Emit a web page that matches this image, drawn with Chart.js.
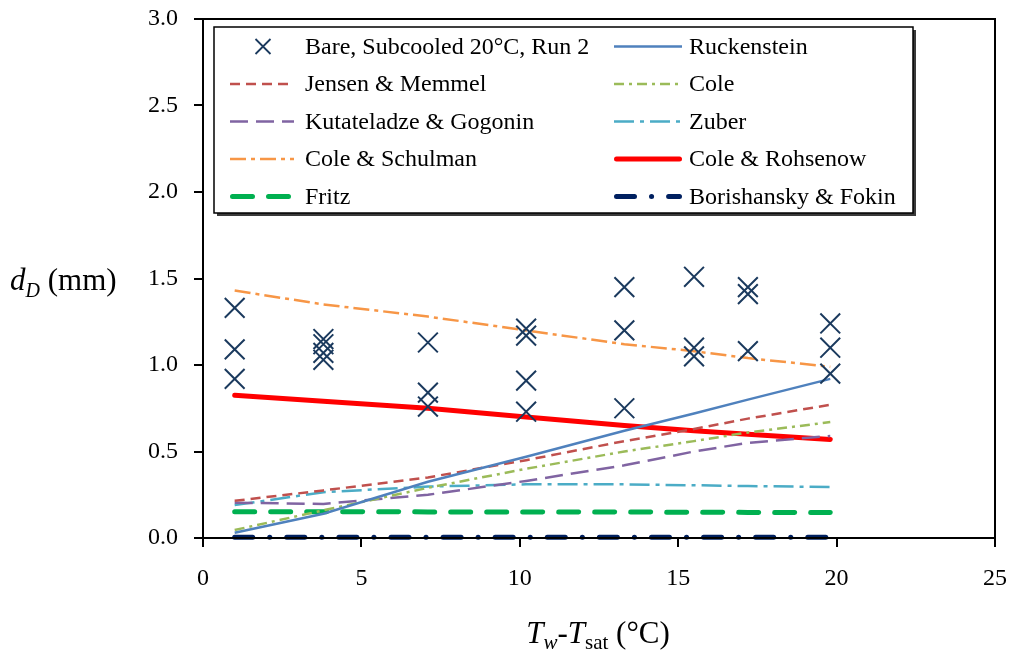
<!DOCTYPE html>
<html><head><meta charset="utf-8">
<script src="https://cdn.jsdelivr.net/npm/chart.js@4"></script>
<style>html,body{margin:0;padding:0;background:#fff}canvas{display:block}</style>
</head><body>
<canvas id="c" width="1013" height="653"></canvas>
<script>
// ---- data ----
const xTicks = [0, 5, 10, 15, 20, 25];
const yTicks = [0.0, 0.5, 1.0, 1.5, 2.0, 2.5, 3.0];

const expX = [1.0,1.0,1.0, 3.8,3.8,3.8,3.8, 7.1,7.1,7.1, 10.2,10.2,10.2,10.2, 13.3,13.3,13.3, 15.5,15.5,15.5, 17.2,17.2,17.2, 19.8,19.8,19.8];
const expY = [1.33,1.09,0.92, 1.15,1.12,1.07,1.03, 1.13,0.84,0.76, 1.21,1.17,0.91,0.73, 1.45,1.20,0.75, 1.51,1.10,1.05, 1.45,1.41,1.08, 1.24,1.10,0.95];

const xLine = [1.0, 3.8, 7.1, 10.2, 13.3, 15.5, 17.2, 19.8];
const ruckenstein  = [0.03, 0.14, 0.325, 0.47, 0.62, 0.72, 0.80, 0.92];
const jensenMemmel = [0.215, 0.275, 0.35, 0.45, 0.56, 0.63, 0.69, 0.77];
const cole         = [0.046, 0.16, 0.29, 0.40, 0.50, 0.56, 0.61, 0.67];
const kutateladze  = [0.204, 0.197, 0.25, 0.33, 0.42, 0.50, 0.55, 0.59];
const zuber        = [0.19, 0.265, 0.297, 0.31, 0.31, 0.305, 0.30, 0.295];
const coleSchulman = [1.43, 1.35, 1.28, 1.20, 1.12, 1.08, 1.04, 0.99];
const coleRohsenow = [0.825, 0.79, 0.75, 0.70, 0.65, 0.62, 0.60, 0.57];
const fritz        = [0.152, 0.152, 0.151, 0.151, 0.150, 0.149, 0.148, 0.147];
const borishansky  = [0.005, 0.005, 0.005, 0.005, 0.005, 0.005, 0.005, 0.005];

const labels = ['Bare, Subcooled 20°C, Run 2','Ruckenstein','Jensen & Memmel','Cole','Kutateladze & Gogonin','Zuber','Cole & Schulman','Cole & Rohsenow','Fritz','Borishansky & Fokin'];
// ---- end data ----

const FONT = 'Liberation Serif';
const pts = (xs, ys) => xs.map((x, i) => ({x: x, y: ys[i]}));
function lineDs(label, ys, color, width, dash, cap) {
  return {label: label, data: pts(xLine, ys), showLine: true, borderColor: color, backgroundColor: color,
    borderWidth: width, borderDash: dash, borderCapStyle: cap || 'butt', pointRadius: 0, pointHoverRadius: 0, fill: false, clip: false};
}
const datasets = [
  {label: labels[0], data: pts(expX, expY), showLine: false, pointStyle: 'crossRot', pointRadius: 14,
   borderColor: '#1b3a5e', backgroundColor: '#1b3a5e', pointBorderWidth: 2, clip: false},
  lineDs(labels[1], ruckenstein, '#4F81BD', 2.5, []),
  lineDs(labels[2], jensenMemmel, '#C0504D', 2.5, [10, 6]),
  lineDs(labels[3], cole, '#9BBB59', 2.5, [10, 5, 3, 5]),
  lineDs(labels[4], kutateladze, '#8064A2', 2.5, [18, 8]),
  lineDs(labels[5], zuber, '#4BACC6', 2.5, [20, 6, 4, 6]),
  lineDs(labels[6], coleSchulman, '#F79646', 2.5, [16, 5, 4, 5]),
  lineDs(labels[7], coleRohsenow, '#FF0000', 5, [], 'round'),
  lineDs(labels[8], fritz, '#00B050', 5, [20, 16], 'round'),
  lineDs(labels[9], borishansky, '#002060', 5, [18, 17, 0.1, 17], 'round')
];

function drawRich(ctx, parts, x, y, align) {
  let w = 0;
  parts.forEach(p => { ctx.font = p.f; w += ctx.measureText(p.t).width; });
  let cx = align === 'center' ? x - w / 2 : x;
  ctx.textBaseline = 'alphabetic'; ctx.textAlign = 'left'; ctx.fillStyle = '#000';
  parts.forEach(p => { ctx.font = p.f; ctx.fillText(p.t, cx, y + (p.dy || 0)); cx += ctx.measureText(p.t).width; });
}

const customPlugin = {
  id: 'custom',
  afterDatasetsDraw(chart) {
    const ctx = chart.ctx, a = chart.chartArea;
    ctx.save();
    // plot frame
    ctx.strokeStyle = '#000'; ctx.lineWidth = 2; ctx.setLineDash([]);
    ctx.strokeRect(a.left, a.top, a.right - a.left, a.bottom - a.top);
    // legend box with shadow
    const L = 214, T = 27, R = 913, B = 213;
    ctx.fillStyle = '#3a3a3a'; ctx.fillRect(L + 3, T + 3, R - L, B - T);
    ctx.fillStyle = '#fff'; ctx.fillRect(L, T, R - L, B - T);
    ctx.strokeStyle = '#000'; ctx.lineWidth = 1.5; ctx.strokeRect(L, T, R - L, B - T);
    const rowsY = [46.5, 84, 121.5, 159, 196.5];
    const cols = [{x1: 230, x2: 294, tx: 305}, {x1: 614, x2: 682, tx: 689}];
    datasets.forEach((ds, i) => {
      const col = cols[i % 2], y = rowsY[Math.floor(i / 2)];
      ctx.save();
      if (i === 0) {
        const cx = 263, s = 7.5;
        ctx.strokeStyle = ds.borderColor; ctx.lineWidth = 1.8; ctx.beginPath();
        ctx.moveTo(cx - s, y - s); ctx.lineTo(cx + s, y + s);
        ctx.moveTo(cx - s, y + s); ctx.lineTo(cx + s, y - s); ctx.stroke();
      } else {
        ctx.strokeStyle = ds.borderColor; ctx.lineWidth = ds.borderWidth;
        ctx.setLineDash(ds.borderDash); ctx.lineCap = ds.borderCapStyle;
        const inset = ds.borderCapStyle === 'round' ? ds.borderWidth / 2 : 0;
        ctx.beginPath(); ctx.moveTo(col.x1 + inset, y); ctx.lineTo(col.x2 - inset, y); ctx.stroke();
      }
      ctx.restore();
      ctx.fillStyle = '#000'; ctx.font = '24px "' + FONT + '"'; ctx.textBaseline = 'middle'; ctx.textAlign = 'left';
      ctx.fillText(ds.label, col.tx, y + 1);
    });
    // axis titles
    drawRich(ctx, [
      {t: 'd', f: 'italic 31px "' + FONT + '"'},
      {t: 'D', f: 'italic 20px "' + FONT + '"', dy: 7},
      {t: ' (mm)', f: '31px "' + FONT + '"'}
    ], 10, 290, 'left');
    drawRich(ctx, [
      {t: 'T', f: 'italic 31px "' + FONT + '"'},
      {t: 'w', f: 'italic 21px "' + FONT + '"', dy: 6},
      {t: '-', f: '31px "' + FONT + '"'},
      {t: 'T', f: 'italic 31px "' + FONT + '"'},
      {t: 'sat', f: '21px "' + FONT + '"', dy: 6},
      {t: ' (°C)', f: '31px "' + FONT + '"'}
    ], 598, 643, 'center');
    ctx.restore();
  }
};

function zeroPad(s) { s.paddingLeft = 0; s.paddingRight = 0; s.paddingTop = 0; s.paddingBottom = 0; }

new Chart(document.getElementById('c'), {
  type: 'scatter',
  data: {datasets: datasets},
  options: {
    responsive: false, animation: false,
    layout: {padding: {left: 0, top: 19, right: 18, bottom: 0}},
    plugins: {legend: {display: false}, tooltip: {enabled: false}},
    scales: {
      x: {
        type: 'linear', min: 0, max: 25,
        afterBuildTicks: s => { s.ticks = xTicks.map(v => ({value: v})); },
        afterFit: s => { s.height = 115; zeroPad(s); },
        grid: {display: true, drawOnChartArea: false, drawTicks: true, tickLength: 9, color: '#000', lineWidth: 2},
        border: {display: true, color: '#000', width: 2},
        ticks: {color: '#000', font: {family: FONT, size: 24}, padding: 17, maxRotation: 0}
      },
      y: {
        type: 'linear', min: 0, max: 3,
        afterBuildTicks: s => { s.ticks = yTicks.map(v => ({value: v})); },
        afterFit: s => { s.width = 203; zeroPad(s); },
        grid: {display: true, drawOnChartArea: false, drawTicks: true, tickLength: 9, color: '#000', lineWidth: 2},
        border: {display: true, color: '#000', width: 2},
        ticks: {color: '#000', font: {family: FONT, size: 24}, padding: 16, callback: v => Number(v).toFixed(1)}
      }
    }
  },
  plugins: [customPlugin]
});
</script>
</body></html>
